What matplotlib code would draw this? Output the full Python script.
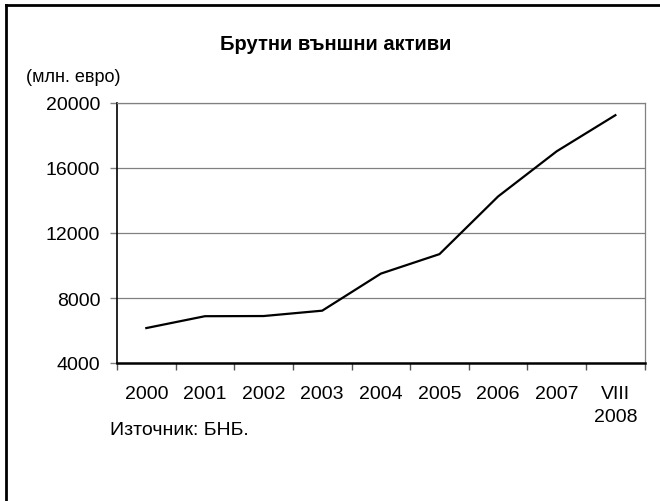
import matplotlib
matplotlib.use("Agg")
import matplotlib.pyplot as plt
from matplotlib.lines import Line2D

plt.rcParams['font.family'] = ['Liberation Sans', 'DejaVu Sans']

categories = ["2000", "2001", "2002", "2003", "2004", "2005", "2006", "2007", "VIII\n2008"]
values = [6150, 6880, 6890, 7220, 9500, 10700, 14250, 17030, 19250]
yticks = [4000, 8000, 12000, 16000, 20000]

title = "Брутни външни активи"
unit = "(млн. евро)"
source = "Източник: БНБ."

W, H = 660, 502
fig = plt.figure(figsize=(W / 100, H / 100), dpi=100)
fig.patch.set_facecolor("white")

left, right, top, bottom = 117, 644.7, 104, 364
ax = fig.add_axes([left / W, 1 - bottom / H, (right - left) / W, (bottom - top) / H])

n = len(categories)
xs = [i + 0.5 for i in range(n)]
ax.plot(xs, values, color="black", lw=1.6, solid_joinstyle="miter", zorder=3)

ax.set_xlim(0, n)
ax.set_ylim(yticks[0], yticks[-1])

ax.set_yticks(yticks)
ax.set_yticklabels([str(v) for v in yticks], fontsize=14)
for y in yticks[1:]:
    ax.axhline(y, color="#808080", lw=0.9, zorder=1)

ax.set_xticks(range(n + 1))
ax.set_xticklabels([])
ax.set_xticks(xs, minor=True)
ax.set_xticklabels(categories, minor=True, fontsize=14, linespacing=1.45, va="top")
ax.tick_params(axis="x", which="minor", length=0, pad=16)
ax.tick_params(axis="x", which="major", length=5, width=1, color="#555555", direction="out")
ax.tick_params(axis="y", which="major", length=5, width=1, color="#808080", direction="out", pad=7)

ax.spines["left"].set_color("black")
ax.spines["left"].set_linewidth(1.2)
ax.spines["bottom"].set_color("black")
ax.spines["bottom"].set_linewidth(1.8)
ax.spines["right"].set_color("#808080")
ax.spines["right"].set_linewidth(0.9)
ax.spines["top"].set_color("#808080")
ax.spines["top"].set_linewidth(0.9)

fig.text(336 / W, 1 - 44 / H, title, ha="center", va="center", fontsize=14.5, fontweight="bold")
fig.text(26 / W, 1 - 77 / H, unit, ha="left", va="center", fontsize=13)
fig.text(110 / W, 1 - 431 / H, source, ha="left", va="center", fontsize=14)

# outer frame (left and top edges visible)
fig.add_artist(Line2D([5.5 / W, 5.5 / W], [0, 1 - 5.5 / H], transform=fig.transFigure, color="black", lw=2))
fig.add_artist(Line2D([5.5 / W, 1], [1 - 6 / H, 1 - 6 / H], transform=fig.transFigure, color="black", lw=2))

fig.savefig("out.png", dpi=100)
